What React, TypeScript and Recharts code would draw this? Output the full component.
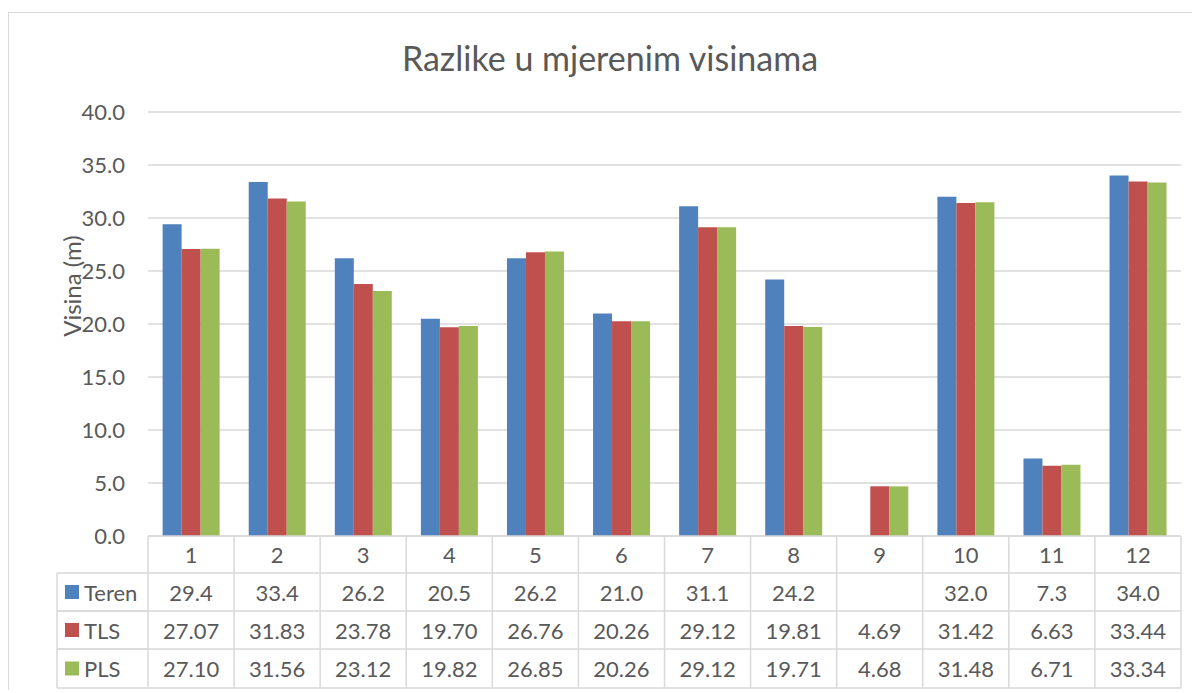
import { BarChart, Bar, XAxis, YAxis, CartesianGrid } from "recharts";

const categories = ["1", "2", "3", "4", "5", "6", "7", "8", "9", "10", "11", "12"];
const teren = [29.4, 33.4, 26.2, 20.5, 26.2, 21.0, 31.1, 24.2, null, 32.0, 7.3, 34.0];
const tls = [27.07, 31.83, 23.78, 19.7, 26.76, 20.26, 29.12, 19.81, 4.69, 31.42, 6.63, 33.44];
const pls = [27.1, 31.56, 23.12, 19.82, 26.85, 20.26, 29.12, 19.71, 4.68, 31.48, 6.71, 33.34];
const yTicks = [0, 5, 10, 15, 20, 25, 30, 35, 40];

const series = [
  { key: "teren", name: "Teren", color: "#4f81bd", values: teren, digits: 1 },
  { key: "tls", name: "TLS", color: "#c0504d", values: tls, digits: 2 },
  { key: "pls", name: "PLS", color: "#9bbb59", values: pls, digits: 2 },
];

const data = categories.map((c, i) => ({
  cat: c,
  teren: teren[i],
  tls: tls[i],
  pls: pls[i],
}));

const W = 1191;
const H = 677;
const PLOT_L = 139;
const PLOT_R = 1172;
const PLOT_T = 99;
const PLOT_B = 523;
const ROWS = [523, 560, 598, 636, 675];
const TABLE_L = 48;
const FONT = "Lato, 'Open Sans', sans-serif";
const TXT = "#595959";
const LINE = "#d9d9d9";
const FS = 22;
const BW = (PLOT_R - PLOT_L) / categories.length;

const TableTick = (props: any) => {
  const { x, payload } = props;
  const i = payload.index;
  const l = x - BW / 2;
  const r = x + BW / 2;
  return (
    <g>
      {i === 0 && <line x1={l} x2={l} y1={ROWS[0]} y2={ROWS[4]} stroke={LINE} strokeWidth={1.5} />}
      <line x1={r} x2={r} y1={ROWS[0]} y2={ROWS[4]} stroke={LINE} strokeWidth={1.5} />
      {ROWS.map((y, k) => (
        <line key={k} x1={l} x2={r} y1={y} y2={y} stroke={LINE} strokeWidth={1.5} />
      ))}
      <text x={x} y={(ROWS[0] + ROWS[1]) / 2} textAnchor="middle" dominantBaseline="central" fontSize={FS} fill={TXT} fontFamily={FONT}>
        {payload.value}
      </text>
      {series.map((s, k) => {
        const v = s.values[i];
        return (
          <text key={s.key} x={x} y={(ROWS[k + 1] + ROWS[k + 2]) / 2} textAnchor="middle" dominantBaseline="central" fontSize={FS} fill={TXT} fontFamily={FONT}>
            {v == null ? "" : v.toFixed(s.digits)}
          </text>
        );
      })}
    </g>
  );
};

export default function App() {
  return (
    <div
      style={{
        marginTop: 4,
        width: 1192,
        height: H,
        borderTop: `1px solid ${LINE}`,
        borderLeft: `1px solid ${LINE}`,
        boxSizing: "content-box",
        overflow: "hidden",
        position: "relative",
        background: "#fff",
      }}
    >
      <BarChart
        width={W}
        height={H}
        data={data}
        margin={{ top: PLOT_T, right: W - PLOT_R, left: 0, bottom: H - ROWS[4] }}
        barCategoryGap="17%"
        barGap={0}
      >
        <text x={601} y={58} textAnchor="middle" fontSize={34} fill={TXT} fontFamily={FONT}>
          Razlike u mjerenim visinama
        </text>
        <text
          x={62}
          y={273}
          transform="rotate(-90 62 273)"
          textAnchor="middle"
          dominantBaseline="central"
          fontSize={24}
          fill={TXT}
          fontFamily={FONT}
        >
          Visina (m)
        </text>
        <CartesianGrid vertical={false} stroke={LINE} strokeWidth={1.5} />
        <XAxis
          dataKey="cat"
          height={ROWS[4] - PLOT_B}
          axisLine={false}
          tickLine={false}
          tickSize={0}
          tickMargin={0}
          interval={0}
          tick={<TableTick />}
        />
        <YAxis
          width={PLOT_L}
          domain={[0, 40]}
          ticks={yTicks}
          tickFormatter={(v: number) => v.toFixed(1)}
          axisLine={false}
          tickLine={false}
          tickSize={0}
          tickMargin={23}
          tick={{ fontSize: FS, fill: TXT, fontFamily: FONT }}
        />
        {series.map((s) => (
          <Bar key={s.key} dataKey={s.key} name={s.name} fill={s.color} isAnimationActive={false} />
        ))}
        {series.map((s, k) => {
          const y0 = ROWS[k + 1];
          const y1 = ROWS[k + 2];
          const cy = (y0 + y1) / 2;
          return (
            <g key={s.key}>
              <line x1={TABLE_L} x2={PLOT_L} y1={y0} y2={y0} stroke={LINE} strokeWidth={1.5} />
              <line x1={TABLE_L} x2={PLOT_L} y1={y1} y2={y1} stroke={LINE} strokeWidth={1.5} />
              <line x1={TABLE_L} x2={TABLE_L} y1={y0} y2={y1} stroke={LINE} strokeWidth={1.5} />
              <rect x={56} y={cy - 7} width={14} height={14} fill={s.color} />
              <text x={75} y={cy} dominantBaseline="central" fontSize={FS} fill={TXT} fontFamily={FONT}>
                {s.name}
              </text>
            </g>
          );
        })}
      </BarChart>
    </div>
  );
}
